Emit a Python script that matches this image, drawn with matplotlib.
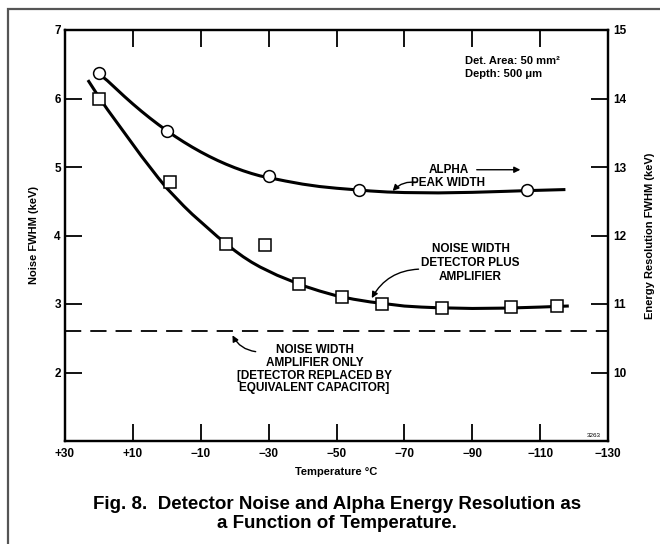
import matplotlib
matplotlib.use("Agg")
import matplotlib.pyplot as plt
from matplotlib.patches import Rectangle

plt.rcParams['font.family'] = ['Liberation Sans', 'DejaVu Sans']

# measured points (temperature in deg C)
alpha_temp = [20, 0, -30, -56.5, -106]
alpha_res = [14.37, 13.53, 12.87, 12.66, 12.66]      # right axis, keV

noise_temp = [20, -1, -17.5, -29, -39, -51.5, -63.5, -81, -101.5, -115]
noise_fwhm = [6.0, 4.78, 3.88, 3.86, 3.29, 3.10, 3.00, 2.94, 2.95, 2.97]

# hand drawn curves
alpha_curve_t = [20.5, 17.5, 15, 12.5, 10, 7.5, 5, 2.5, 0, -2.5, -5, -7.5, -10, -12.5, -15,
                 -17.5, -20, -22.5, -25, -27.5, -30, -35, -40, -45, -50, -55, -60, -65, -70,
                 -80, -90, -100, -106, -117]
alpha_curve_v = [14.38, 14.26, 14.145, 14.03, 13.92, 13.815, 13.715, 13.62, 13.53, 13.445,
                 13.365, 13.29, 13.22, 13.155, 13.095, 13.04, 12.99, 12.945, 12.905, 12.87,
                 12.845, 12.795, 12.75, 12.715, 12.69, 12.67, 12.65, 12.635, 12.627, 12.622,
                 12.63, 12.645, 12.655, 12.67]

noise_curve_t = [23, 20, 17.5, 15, 12.5, 10, 7.5, 5, 2.5, 0, -2.5, -5, -7.5, -10, -12.5, -15,
                 -17.5, -20, -22.5, -25, -27.5, -30, -32.5, -35, -37.5, -40, -45, -50, -55,
                 -60, -65, -70, -75, -80, -90, -100, -110, -118]
noise_curve_v = [6.25, 6.02, 5.84, 5.67, 5.50, 5.33, 5.16, 5.00, 4.84, 4.69, 4.56, 4.43, 4.31,
                 4.20, 4.09, 3.98, 3.88, 3.78, 3.69, 3.61, 3.54, 3.48, 3.42, 3.37, 3.32, 3.27,
                 3.19, 3.12, 3.07, 3.03, 3.00, 2.97, 2.955, 2.945, 2.935, 2.94, 2.955, 2.97]

amp_only = 2.61

xticks = [30, 10, -10, -30, -50, -70, -90, -110, -130]
xlabels = ['+30', '+10', '\u221210', '\u221230', '\u221250', '\u221270', '\u221290', '\u2212110', '\u2212130']

fig = plt.figure(figsize=(6.6, 5.44), dpi=100)
fig.patches.append(Rectangle((8/660, -0.1), 1.2, 1 - 9/544 + 0.1, transform=fig.transFigure,
                             fill=False, edgecolor='#555555', linewidth=1.6))

ax = fig.add_axes([65/660, 1 - 441/544, 543/660, 411/544])
ax2 = ax.twinx()

ax.set_xlim(30, -130)
ax.set_ylim(1, 7)
ax2.set_ylim(9, 15)

ax.plot(noise_curve_t, noise_curve_v, color='black', lw=2.2, solid_joinstyle='round')
ax.plot(noise_temp, noise_fwhm, 's', ms=8, mfc='white', mec='black', mew=1.1)
ax2.plot(alpha_curve_t, alpha_curve_v, color='black', lw=2.2, solid_joinstyle='round')
ax2.plot(alpha_temp, alpha_res, 'o', ms=8.5, mfc='white', mec='black', mew=1.1)
ax.axhline(amp_only, color='black', lw=1.3, dashes=(9, 5))

for a in (ax, ax2):
    for s in a.spines.values():
        s.set_linewidth(1.6)

ax.set_xticks(xticks)
ax.set_xticklabels(xlabels)
ax.set_yticks([2, 3, 4, 5, 6, 7])
ax2.set_yticks([10, 11, 12, 13, 14, 15])
ax.tick_params(axis='x', direction='in', length=12, width=1.3, top=True, labelsize=8.5, pad=5)
ax.tick_params(axis='y', direction='in', length=12, width=1.3, labelsize=8.5, pad=3)
ax2.tick_params(axis='y', direction='in', length=12, width=1.3, labelsize=8.5, pad=4)
for t in ax.get_xticklabels() + ax.get_yticklabels() + ax2.get_yticklabels():
    t.set_fontweight('bold')

ax.set_xlabel('Temperature \u00b0C', fontsize=8, fontweight='bold', labelpad=5)
ax.set_ylabel('Noise FWHM (keV)', fontsize=8, fontweight='bold', labelpad=11)
ax2.set_ylabel('Energy Resolution FWHM (keV)', fontsize=8, fontweight='bold', labelpad=13)

ax.text(-88, 6.45, 'Det. Area: 50 mm\u00b2\nDepth: 500 \u03bcm', fontsize=8, fontweight='bold',
        va='center', ha='left', linespacing=1.3)

ax2.text(-83, 12.95, 'ALPHA', fontsize=8.5, fontweight='bold', ha='center', va='center')
ax2.annotate('', xy=(-105, 12.96), xytext=(-90.5, 12.96),
             arrowprops=dict(arrowstyle='-|>', color='black', lw=1, mutation_scale=9))
ax2.text(-83, 12.76, 'PEAK WIDTH', fontsize=8.5, fontweight='bold', ha='center', va='center')
ax2.annotate('', xy=(-66, 12.62), xytext=(-74.5, 12.77),
             arrowprops=dict(arrowstyle='-|>', color='black', lw=1, mutation_scale=9,
                             connectionstyle='arc3,rad=0.3'))

ax.text(-89.5, 3.60, 'NOISE WIDTH\nDETECTOR PLUS\nAMPLIFIER', fontsize=8.5, fontweight='bold',
        ha='center', va='center', linespacing=1.2)
ax.annotate('', xy=(-60, 3.05), xytext=(-75, 3.51),
            arrowprops=dict(arrowstyle='-|>', color='black', lw=1, mutation_scale=9,
                            connectionstyle='arc3,rad=0.3'))

ax.text(-43.5, 2.05, 'NOISE WIDTH\nAMPLIFIER ONLY\n[DETECTOR REPLACED BY\nEQUIVALENT CAPACITOR]',
        fontsize=8.5, fontweight='bold', ha='center', va='center', linespacing=1.1)
ax.annotate('', xy=(-19, 2.58), xytext=(-27, 2.30),
            arrowprops=dict(arrowstyle='-|>', color='black', lw=1, mutation_scale=9,
                            connectionstyle='arc3,rad=-0.3'))

ax.text(-128, 1.05, '3263', fontsize=4.5, ha='right', va='bottom')

fig.text(337/660, 1 - 514/544, 'Fig. 8.  Detector Noise and Alpha Energy Resolution as\na Function of Temperature.',
         fontsize=13.5, fontweight='bold', ha='center', va='center', linespacing=1.1)

fig.savefig('out.png', dpi=100)
